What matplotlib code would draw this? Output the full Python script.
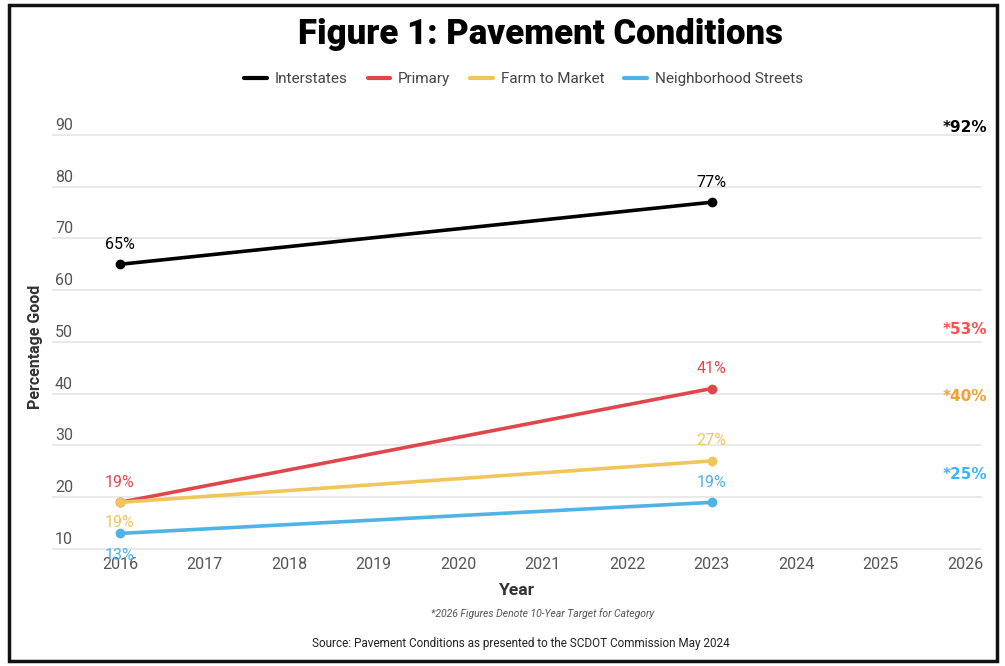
import matplotlib
matplotlib.use("Agg")
import matplotlib.pyplot as plt
from matplotlib import font_manager
from matplotlib.patches import Rectangle

# pick a narrow font if one is installed
names = set(f.name for f in font_manager.fontManager.ttflist)
narrow = "Liberation Sans Narrow" if "Liberation Sans Narrow" in names else "Roboto"

series = ["Interstates", "Primary", "Farm to Market", "Neighborhood Streets"]
colors = ["#000000", "#e0474c", "#f0c65a", "#4fb3e6"]
years = [2016, 2023]
values = [
    [65, 77],
    [19, 41],
    [19, 27],
    [13, 19],
]
targets = [92, 53, 40, 25]
target_colors = ["#000000", "#ff4f4f", "#f5a033", "#3fb3f5"]
x_ticks = list(range(2016, 2027))
y_ticks = [10, 20, 30, 40, 50, 60, 70, 80, 90]

fig = plt.figure(figsize=(10.05, 6.66), dpi=100)
ax = fig.add_axes([0.052, 0.168, 0.9254, 0.6527])

for name, c, v in zip(series, colors, values):
    ax.plot(years, v, color=c, lw=2.6, marker="o", ms=6, label=name,
            solid_capstyle="round", zorder=3)

# point labels: (dx, dy) offsets in points
offsets = [
    [(0, 9), (0, 9)],
    [(0, 9), (0, 9)],
    [(0, -20), (0, 9)],
    [(0, -21), (0, 9)],
]
for c, v, offs in zip(colors, values, offsets):
    for x, y, (dx, dy) in zip(years, v, offs):
        ax.annotate(f"{y}%", (x, y), xytext=(dx, dy), textcoords="offset points",
                    ha="center", va="bottom", color=c, fontsize=11.5,
                    family=narrow, zorder=4)

for t, c in zip(targets, target_colors):
    ax.text(2026, t - 0.6, f"*{t}%", ha="center", va="center", color=c,
            fontsize=11, fontweight="bold", family="DejaVu Sans")

ax.set_xlim(2015.2, 2026.2)
ax.set_ylim(9, 93)
ax.set_xticks(x_ticks)
ax.set_yticks(y_ticks)
ax.set_yticklabels([])
ax.tick_params(length=0, labelsize=11.5, colors="#555555", pad=2)
for lab in ax.get_xticklabels():
    lab.set_family(narrow)
ax.grid(axis="y", color="#e9e9e9", lw=1.5, zorder=0)
for s in ax.spines.values():
    s.set_visible(False)

# y tick labels sit above the gridlines on the left
for y in y_ticks:
    ax.annotate(str(y), (0, y), xycoords=("axes fraction", "data"),
                xytext=(2, 1.5), textcoords="offset points", ha="left", va="bottom",
                fontsize=11.5, color="#555555", family=narrow)

ax.set_xlabel("Year", fontsize=12.5, fontweight="bold", color="#333333",
              family=narrow, labelpad=8)
fig.text(0.035, 0.479, "Percentage Good", rotation=90, ha="center", va="center",
         fontsize=11.5, fontweight="bold", color="#333333", family=narrow)

fig.text(0.538, 0.948, "Figure 1: Pavement Conditions", ha="center", va="center",
         fontsize=25, fontweight="black", color="#000000", family=narrow)

leg = fig.legend(loc="center", bbox_to_anchor=(0.521, 0.881), ncol=4, frameon=False,
                 handlelength=1.5, handletextpad=0.5, columnspacing=1.3,
                 prop={"family": narrow, "size": 11})
for t in leg.get_texts():
    t.set_color("#444444")
for h in leg.legend_handles:
    h.set_marker("")
    h.set_linewidth(3)

fig.text(0.54, 0.079, "*2026 Figures Denote 10-Year Target for Category",
         ha="center", va="center", fontsize=7.5, style="italic", color="#555555",
         family=narrow)
fig.text(0.518, 0.034, "Source: Pavement Conditions as presented to the SCDOT Commission May 2024",
         ha="center", va="center", fontsize=8.5, color="#222222", family=narrow)

fig.patches.append(Rectangle((0.009, 0.008), 0.983, 0.985, transform=fig.transFigure,
                             fill=False, ec="#111111", lw=2.5))

fig.savefig("out.png", dpi=100)
